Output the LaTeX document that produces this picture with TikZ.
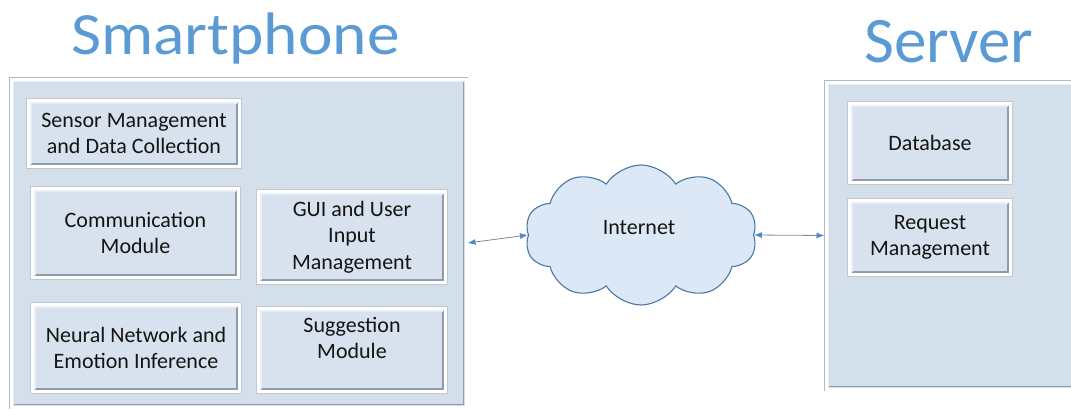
\documentclass[tikz,border=0pt]{standalone}
\usepackage{fontspec}
\setmainfont{Carlito}
\usetikzlibrary{shapes.symbols,arrows.meta}

\definecolor{titleblue}{HTML}{5B9BD5}
\definecolor{panelfill}{HTML}{D4DFEC}
\definecolor{boxfill}{HTML}{D8E2EE}
\definecolor{bevdark}{HTML}{8E9CAD}
\definecolor{bevlight}{HTML}{E9EFF6}
\definecolor{rimgray}{HTML}{B4B9C0}
\definecolor{cloudfill}{HTML}{DCE8F6}
\definecolor{cloudline}{HTML}{4A77A5}
\definecolor{linkgray}{HTML}{7D8A99}
\definecolor{arrowblue}{HTML}{4F8AC9}
\definecolor{textdark}{HTML}{141414}

\tikzset{
  bevel/.style={path picture={
    \draw[bevdark, line width=1.5pt]
      ([shift={(2.3pt,2.3pt)}]path picture bounding box.south west) --
      ([shift={(-2.3pt,2.3pt)}]path picture bounding box.south east) --
      ([shift={(-2.3pt,-2.3pt)}]path picture bounding box.north east);
    \draw[bevlight, line width=1.5pt]
      ([shift={(2.3pt,2.3pt)}]path picture bounding box.south west) --
      ([shift={(2.3pt,-2.3pt)}]path picture bounding box.north west) --
      ([shift={(-2.3pt,-2.3pt)}]path picture bounding box.north east);
  }},
  panel/.style={rectangle, fill=panelfill, draw=white, line width=3pt,
    preaction={draw=rimgray, line width=4.6pt}, bevel, inner sep=0pt},
  modbox/.style={rectangle, fill=boxfill, draw=white, line width=3pt,
    preaction={draw=rimgray!80, line width=4.4pt}, bevel,
    align=center, text=textdark, inner sep=0pt,
    font=\fontsize{22}{26.5}\selectfont},
  title/.style={text=titleblue, inner sep=0pt, anchor=base west},
  link/.style={draw=linkgray, line width=0.8pt,
    {Latex[length=8pt,width=6pt,color=arrowblue]}-{Latex[length=8pt,width=6pt,color=arrowblue]}},
}

\begin{document}
\begin{tikzpicture}[x=1pt,y=-1pt]
\useasboundingbox (0,0) rectangle (1071,410);

% headings
\node[title, font=\fontsize{60}{66}\selectfont] (phonetitle) at (71,54)
  {\scalebox{1.09}[1]{Smartphone}};
\node[title, font=\fontsize{65}{72}\selectfont] (servertitle) at (864,62) {Server};

% the two panels
\node[panel, minimum width=455pt, minimum height=328pt] (phone) at (238.5,243) {};
\node[panel, minimum width=263pt, minimum height=307pt] (server) at (957.5,235.5) {};

% smartphone modules
\node[modbox, minimum width=211pt, minimum height=66pt] (sensor) at (134,133.5)
  {Sensor Management\\and Data Collection};
\node[modbox, minimum width=206pt, minimum height=89pt] (comm) at (135.5,233)
  {Communication\\Module};
\node[modbox, minimum width=187pt, minimum height=91pt] (gui) at (352,237)
  {GUI and User\\Input\\Management};
\node[modbox, minimum width=207pt, minimum height=87pt] (neural) at (136,348)
  {Neural Network and\\Emotion Inference};
\node[modbox, minimum width=187pt, minimum height=83pt] (suggest) at (352,350)
  {\raisebox{10pt}[\height][\depth]{\begin{tabular}{@{}c@{}}Suggestion\\Module\end{tabular}}};

% server modules
\node[modbox, minimum width=161pt, minimum height=79pt] (db) at (930,143) {Database};
\node[modbox, minimum width=161pt, minimum height=74pt] (req) at (930,237.5)
  {Request\\Management};

% the network
\node[cloud, cloud puffs=10, cloud puff arc=115, aspect=1.66,
      minimum width=232pt, minimum height=140pt, inner sep=0pt,
      fill=cloudfill, draw=cloudline, line width=1.1pt] (net) at (641,235) {};
\node[text=textdark, font=\fontsize{22}{26.5}\selectfont, inner sep=0pt] (nettext) at (639,228) {Internet};

% links
\draw[link] (phone.east) -- (net.west);
\draw[link] (net.east) -- (server.west);
\end{tikzpicture}
\end{document}
